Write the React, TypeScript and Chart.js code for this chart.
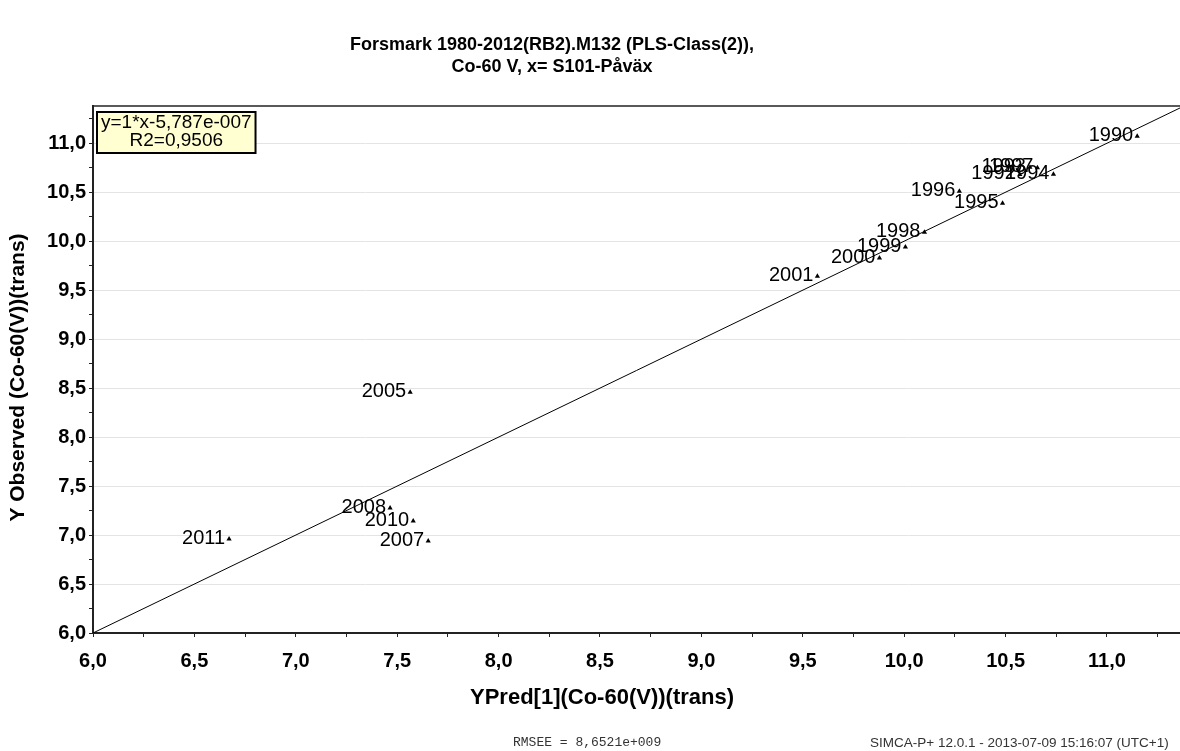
import { useEffect, useRef } from "react";
import { Chart, registerables } from "chart.js";

Chart.register(...registerables);

// Observation years shown as point labels
const years = [
  "1990", "1992", "1993", "1994", "1995", "1996", "1997", "1998",
  "1999", "2000", "2001", "2005", "2007", "2008", "2010", "2011",
];
// YPred[1](Co-60(V))(trans)
const predicted = [
  11.149, 10.57, 10.62, 10.736, 10.485, 10.272, 10.657, 10.1,
  10.006, 9.878, 9.572, 7.564, 7.653, 7.465, 7.579, 6.671,
];
// Y Observed (Co-60(V))(trans)
const observed = [
  11.07, 10.68, 10.755, 10.684, 10.388, 10.51, 10.75, 10.09,
  9.94, 9.827, 9.643, 8.459, 6.939, 7.276, 7.143, 6.959,
];

// Fitted line y = slope * x + intercept
const fitSlope = 1;
const fitIntercept = -5.787e-7;
const fitLabel = ["y=1*x-5,787e-007", "R2=0,9506"];

const axisMin = 6.0;
const xAxisMax = 11.36;
const yAxisMax = 11.38;
const tickStep = 0.25;
const labelStep = 0.5;

const titleLines = ["Forsmark 1980-2012(RB2).M132 (PLS-Class(2)),", "Co-60 V, x= S101-Påväx"];
const xTitle = "YPred[1](Co-60(V))(trans)";
const yTitle = "Y Observed (Co-60(V))(trans)";
const footLeft = "RMSEE = 8,6521e+009";
const footRight = "SIMCA-P+ 12.0.1 - 2013-07-09 15:16:07 (UTC+1)";

const SANS = '"Liberation Sans", Arial, sans-serif';
const MONO = '"Liberation Mono", "Courier New", monospace';

const isMajor = (v: number) => Math.abs(v / labelStep - Math.round(v / labelStep)) < 1e-6;
const fmt = (v: number) => (isMajor(v) ? v.toFixed(1).replace(".", ",") : "");

const decorations = {
  id: "decorations",
  afterDatasetsDraw(chart: any) {
    const { ctx, chartArea } = chart;
    const meta = chart.getDatasetMeta(0);
    ctx.save();
    // point labels, right aligned just left of each marker
    ctx.fillStyle = "#000";
    ctx.font = `20px ${SANS}`;
    ctx.textAlign = "right";
    ctx.textBaseline = "middle";
    meta.data.forEach((el: any, i: number) => {
      ctx.fillText(years[i], el.x - 4, el.y - 1);
    });

    // frame line along the top of the plot
    ctx.strokeStyle = "#222";
    ctx.lineWidth = 1.5;
    ctx.beginPath();
    ctx.moveTo(chartArea.left, chartArea.top);
    ctx.lineTo(chartArea.right, chartArea.top);
    ctx.stroke();

    // regression info box
    ctx.font = `19px ${SANS}`;
    const w = Math.max(...fitLabel.map((t) => ctx.measureText(t).width)) + 8;
    const bx = chartArea.left + 4;
    const by = chartArea.top + 6;
    const bh = 41;
    ctx.fillStyle = "#ffffd2";
    ctx.fillRect(bx, by, w, bh);
    ctx.strokeStyle = "#000";
    ctx.lineWidth = 2;
    ctx.strokeRect(bx, by, w, bh);
    ctx.fillStyle = "#000";
    ctx.textAlign = "center";
    ctx.textBaseline = "middle";
    fitLabel.forEach((t, i) => ctx.fillText(t, bx + w / 2, by + 11 + i * 18));
    ctx.restore();
  },
  afterDraw(chart: any) {
    const { ctx, chartArea } = chart;
    ctx.save();
    ctx.fillStyle = "#000";
    ctx.textAlign = "center";
    ctx.textBaseline = "middle";
    ctx.font = `bold 18px ${SANS}`;
    titleLines.forEach((t, i) => ctx.fillText(t, 552, 45 + i * 22));

    ctx.font = `bold 22px ${SANS}`;
    ctx.fillText(xTitle, 602, 698);

    ctx.font = `bold 21px ${SANS}`;
    ctx.save();
    ctx.translate(18, (chartArea.top + chartArea.bottom) / 2 + 8);
    ctx.rotate(-Math.PI / 2);
    ctx.fillText(yTitle, 0, 0);
    ctx.restore();

    ctx.fillStyle = "#333";
    ctx.font = `13px ${MONO}`;
    ctx.textAlign = "left";
    ctx.fillText(footLeft, 513, 743);
    ctx.font = `13.5px ${SANS}`;
    ctx.fillText(footRight, 870, 743);
    ctx.restore();
  },
};

export default function App() {
  const canvasRef = useRef<HTMLCanvasElement | null>(null);

  useEffect(() => {
    if (!canvasRef.current) return;
    const points = predicted.map((x, i) => ({ x, y: observed[i] }));
    const fitLine = [axisMin, xAxisMax].map((x) => ({ x, y: fitSlope * x + fitIntercept }));

    const chart = new Chart(canvasRef.current, {
      type: "scatter",
      data: {
        datasets: [
          {
            data: points,
            pointStyle: "triangle",
            pointRadius: 3,
            pointBackgroundColor: "#000",
            pointBorderColor: "#000",
            pointBorderWidth: 0,
          },
          {
            type: "line",
            data: fitLine,
            borderColor: "#000",
            borderWidth: 1,
            pointRadius: 0,
            fill: false,
          },
        ],
      },
      options: {
        responsive: false,
        animation: false,
        devicePixelRatio: 1,
        layout: { padding: { top: 106, left: 0, right: 0, bottom: 0 } },
        plugins: {
          legend: { display: false },
          title: { display: false },
          tooltip: { enabled: false },
        },
        scales: {
          x: {
            type: "linear",
            min: axisMin,
            max: xAxisMax,
            afterFit: (s: any) => {
              s.height = 118;
            },
            border: { color: "#222", width: 2 },
            grid: {
              drawOnChartArea: false,
              tickLength: 4,
              tickColor: "#222",
            },
            ticks: {
              stepSize: tickStep,
              includeBounds: false,
              autoSkip: false,
              maxRotation: 0,
              padding: 12,
              color: "#000",
              font: { family: SANS, size: 20, weight: "bold" },
              callback: (v: any) => fmt(Number(v)),
            },
          },
          y: {
            type: "linear",
            min: axisMin,
            max: yAxisMax,
            afterFit: (s: any) => {
              s.width = 93;
            },
            border: { color: "#222", width: 2 },
            grid: {
              color: (c: any) => (c.tick && isMajor(c.tick.value) ? "#e4e4e4" : "rgba(0,0,0,0)"),
              tickColor: "#222",
              tickLength: 4,
            },
            ticks: {
              stepSize: tickStep,
              includeBounds: false,
              autoSkip: false,
              padding: 3,
              color: "#000",
              font: { family: SANS, size: 20, weight: "bold" },
              callback: (v: any) => fmt(Number(v)),
            },
          },
        },
      },
      plugins: [decorations],
    });
    return () => chart.destroy();
  }, []);

  return (
    <div style={{ position: "absolute", left: 0, top: 0, width: 1180, height: 751, overflow: "hidden", background: "#fff" }}>
      <canvas ref={canvasRef} width={1184} height={751} style={{ display: "block" }} />
    </div>
  );
}
